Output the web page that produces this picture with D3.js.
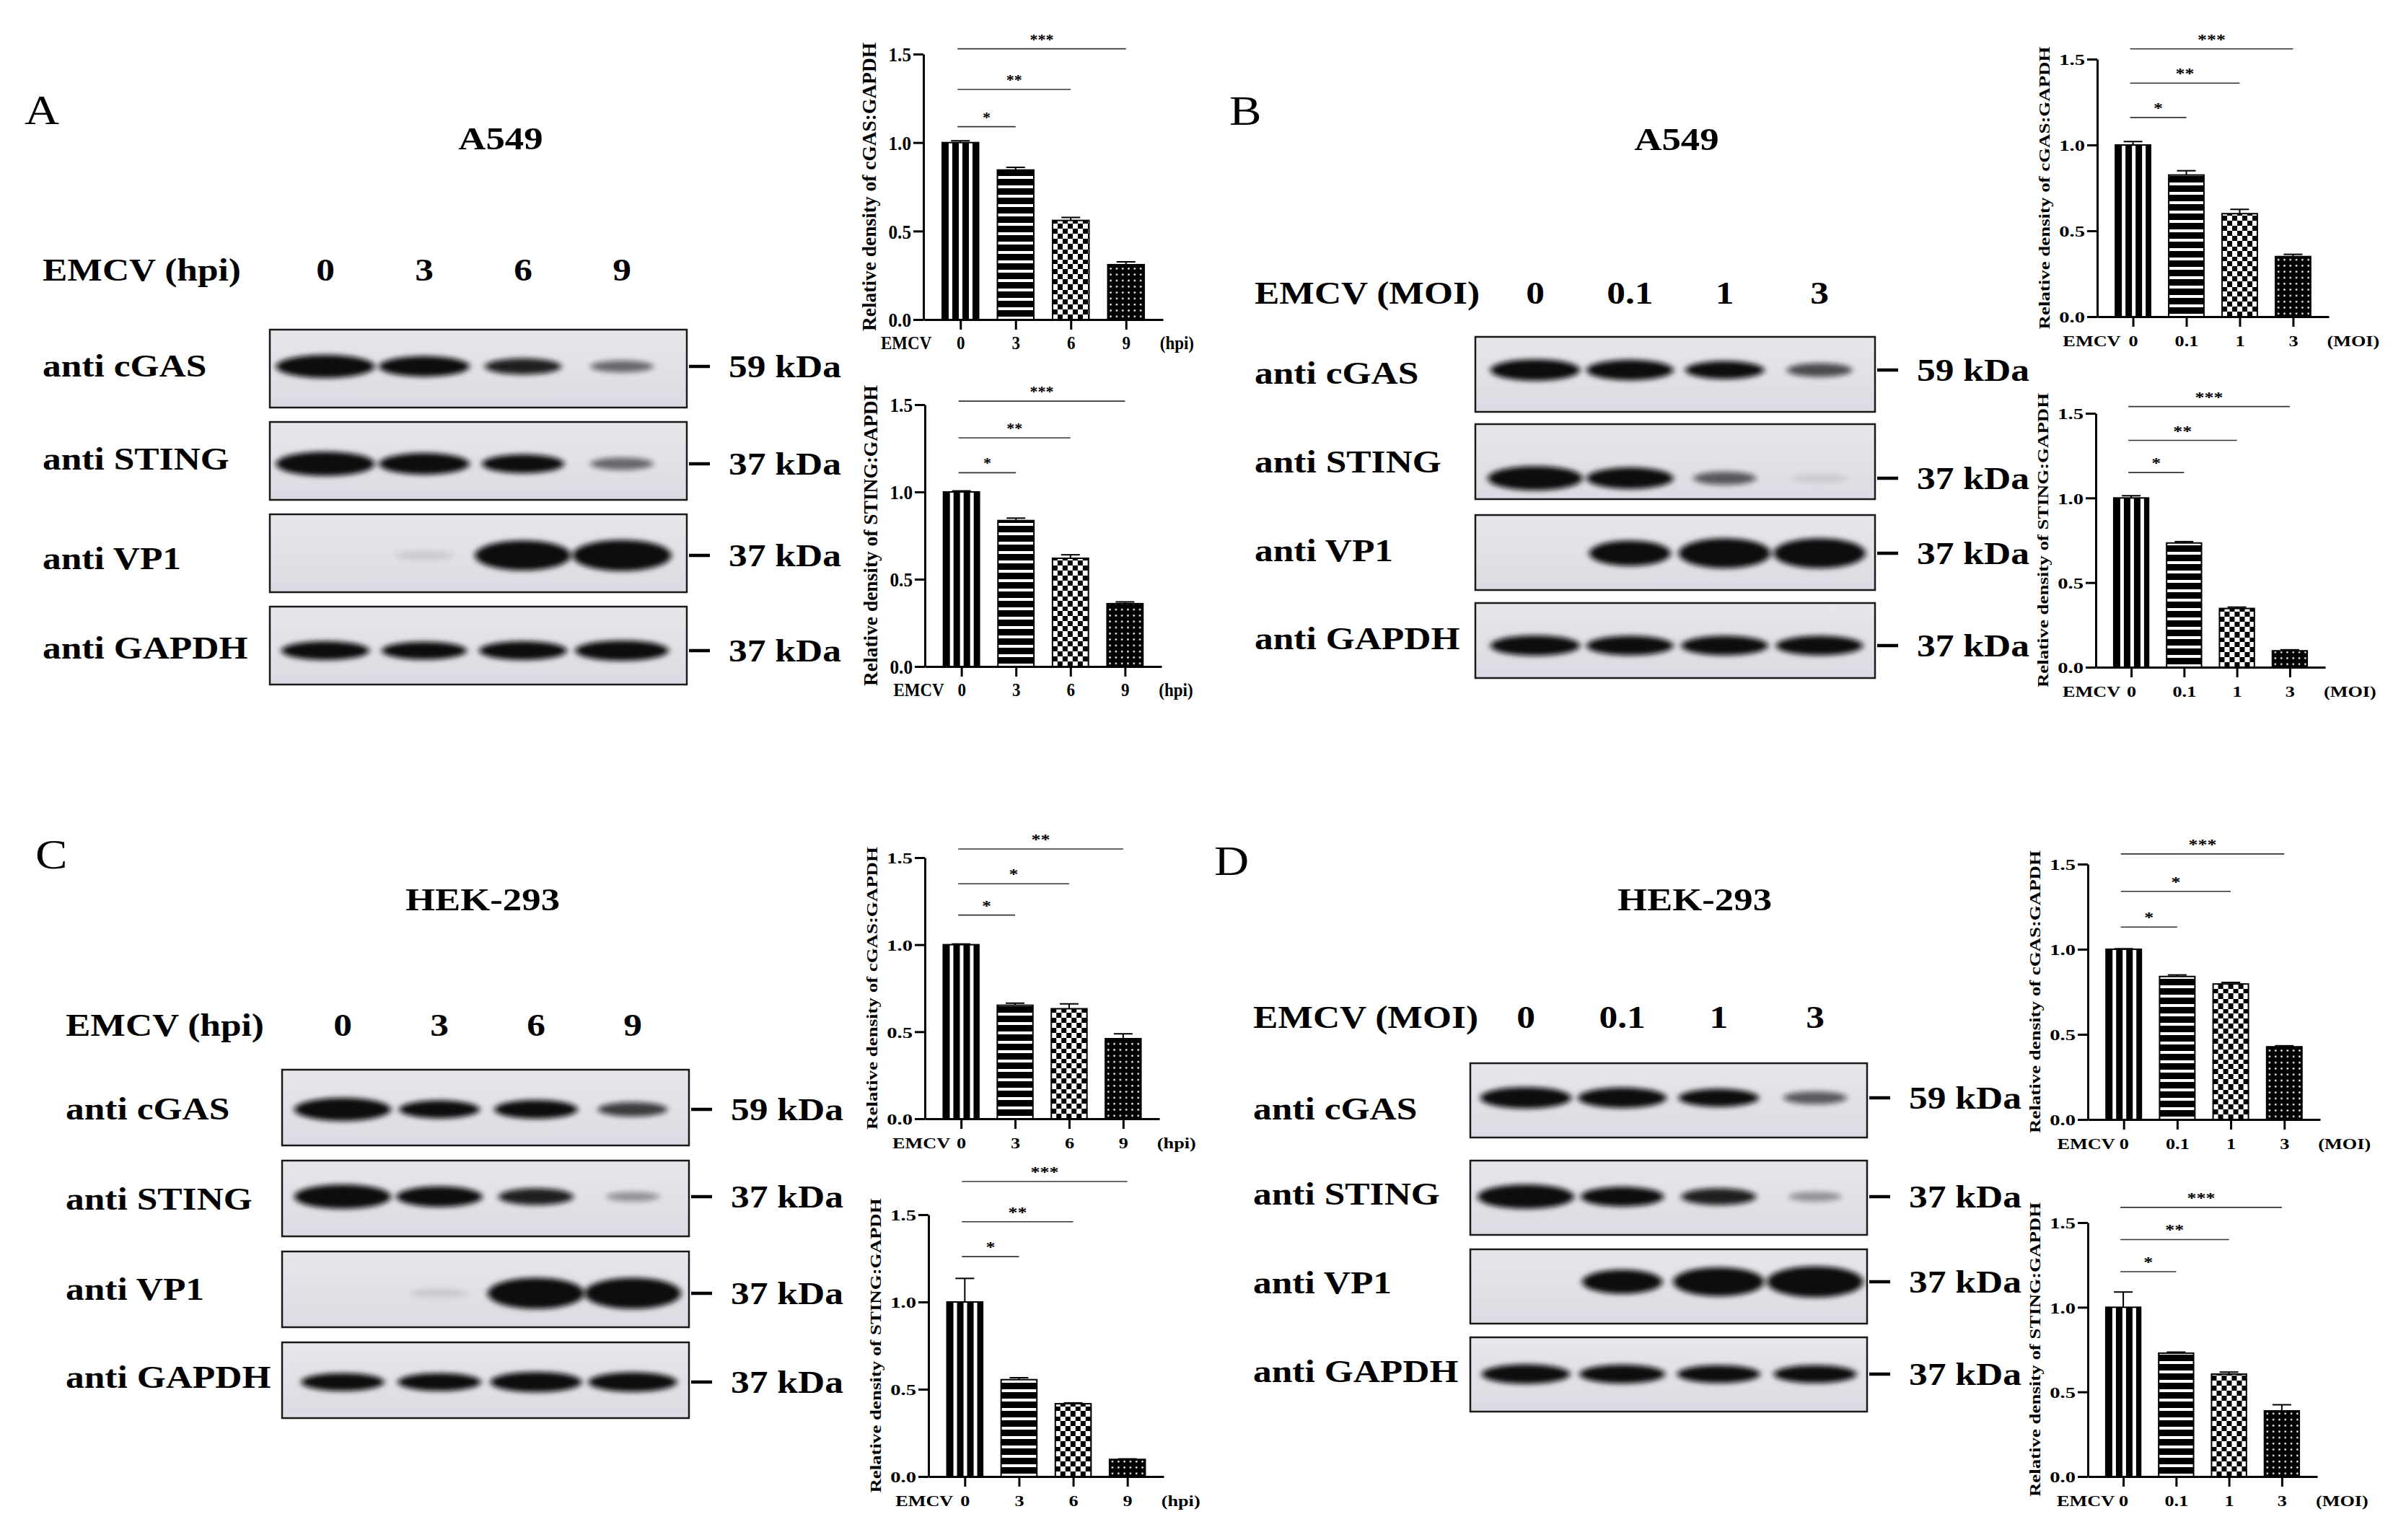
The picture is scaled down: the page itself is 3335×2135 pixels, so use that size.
<!DOCTYPE html>
<html>
<head>
<meta charset="utf-8">
<title>EMCV reduces cGAS and STING</title>
<style>
  body { margin: 0; background: #fff; }
  svg { display: block; background: #fff; }
  text { font-family: 'Liberation Serif', 'Times New Roman', serif; fill: #000; }
  .bold { font-weight: bold; }
  .plain { font-weight: normal; }
  .axis path, .axis line { stroke: #000; stroke-width: 3px; }
  .sig { stroke: #333; stroke-width: 1.6px; }
</style>
<script src="https://cdn.jsdelivr.net/npm/d3@7"></script>
</head>
<body>
<div id="fig"></div>
<script>
var width = 3335, height = 2135;

// lanes / categories
var hpiLanes = ['0', '3', '6', '9'];
var moiLanes = ['0', '0.1', '1', '3'];
var blotRows = ['anti cGAS', 'anti STING', 'anti VP1', 'anti GAPDH'];
var blotMarkers = ['59 kDa', '37 kDa', '37 kDa', '37 kDa'];
var yTicks = [0, 0.5, 1.0, 1.5];

// band strength read off the blots (rows: cGAS, STING, VP1, GAPDH; 0 = no band)
var bandsA = [[1.0, 0.85, 0.6, 0.35], [1.0, 0.85, 0.7, 0.35], [0, 0.06, 0.95, 1.0], [0.8, 0.75, 0.8, 0.9]];
var bandsB = [[0.9, 0.85, 0.7, 0.45], [1.0, 0.85, 0.4, 0.1], [0, 0.75, 0.95, 0.95], [0.9, 0.85, 0.85, 0.85]];
var bandsC = [[1.0, 0.7, 0.75, 0.5], [1.0, 0.8, 0.6, 0.2], [0, 0.06, 1.0, 1.0], [0.75, 0.75, 0.9, 0.85]];
var bandsD = [[0.9, 0.85, 0.7, 0.4], [1.0, 0.75, 0.6, 0.2], [0, 0.7, 0.9, 1.0], [0.85, 0.8, 0.75, 0.75]];

// relative density and its (upper) error bar
var cgasHpiA = [1.00, 0.845, 0.56, 0.31];
var cgasHpiAErr = [0.010, 0.015, 0.017, 0.016];
var stingHpiA = [1.00, 0.836, 0.62, 0.36];
var stingHpiAErr = [0.006, 0.014, 0.020, 0.010];
var cgasMoiB = [1.00, 0.825, 0.60, 0.35];
var cgasMoiBErr = [0.020, 0.025, 0.025, 0.013];
var stingMoiB = [1.00, 0.734, 0.347, 0.097];
var stingMoiBErr = [0.013, 0.008, 0.008, 0.006];
var cgasHpiC = [1.00, 0.652, 0.632, 0.46];
var cgasHpiCErr = [0.004, 0.012, 0.028, 0.028];
var stingHpiC = [1.00, 0.555, 0.417, 0.098];
var stingHpiCErr = [0.135, 0.011, 0.005, 0.003];
var cgasMoiD = [1.00, 0.84, 0.796, 0.427];
var cgasMoiDErr = [0.003, 0.009, 0.009, 0.006];
var stingMoiD = [1.00, 0.729, 0.605, 0.388];
var stingMoiDErr = [0.090, 0.006, 0.012, 0.036];

// significance of lane 0 vs lanes 1,2,3: stars and bracket height (y units)
var starsA1 = ['*', '**', '***'], sigA1 = [1.09, 1.30, 1.53];
var starsA2 = ['*', '**', '***'], sigA2 = [1.11, 1.31, 1.52];
var starsB1 = ['*', '**', '***'], sigB1 = [1.16, 1.36, 1.56];
var starsB2 = ['*', '**', '***'], sigB2 = [1.15, 1.34, 1.54];
var starsC1 = ['*', '*', '**'], sigC1 = [1.17, 1.35, 1.55];
var starsC2 = ['*', '**', '***'], sigC2 = [1.26, 1.46, 1.69];
var starsD1 = ['*', '*', '***'], sigD1 = [1.13, 1.34, 1.56];
var starsD2 = ['*', '**', '***'], sigD2 = [1.21, 1.40, 1.59];

// page layout
var blotLayout = [
    {letter: 'A', letterX: 34, letterY: 172, cell: 'A549', cellX: 694, cellY: 207, head: 'EMCV (hpi)', headY: 389, labelX: 59,
     lanes: hpiLanes, laneX: [451, 862], boxX: [374, 952], rowTop: [457, 585, 713, 841], rowH: 108,
     bandY: [508, 643, 770, 902], labelY: [522, 651, 789, 913], bands: bandsA},
    {letter: 'B', letterX: 1704, letterY: 173, cell: 'A549', cellX: 2324, cellY: 208, head: 'EMCV (MOI)', headY: 421, labelX: 1739,
     lanes: moiLanes, laneX: [2128, 2522], boxX: [2045, 2599], rowTop: [467, 588, 714, 836], rowH: 104,
     bandY: [513, 663, 767, 895], labelY: [532, 655, 778, 900], bands: bandsB},
    {letter: 'C', letterX: 49, letterY: 1204, cell: 'HEK-293', cellX: 669, cellY: 1262, head: 'EMCV (hpi)', headY: 1436, labelX: 91,
     lanes: hpiLanes, laneX: [475, 877], boxX: [391, 955], rowTop: [1483, 1609, 1735, 1861], rowH: 105,
     bandY: [1538, 1659, 1793, 1916], labelY: [1552, 1677, 1802, 1924], bands: bandsC},
    {letter: 'D', letterX: 1683, letterY: 1213, cell: 'HEK-293', cellX: 2349, cellY: 1262, head: 'EMCV (MOI)', headY: 1425, labelX: 1737,
     lanes: moiLanes, laneX: [2115, 2516], boxX: [2038, 2588], rowTop: [1474, 1609, 1732, 1854], rowH: 103,
     bandY: [1522, 1659, 1777, 1905], labelY: [1552, 1670, 1793, 1916], bands: bandsD}
];
var rowThick = [1.0, 1.05, 1.35, 0.95];

var charts = [
    {id: 'a1', x0: 1280, xEnd: 1612, y0: 443, yTop: 75, lanes: hpiLanes, unit: '(hpi)', protein: 'cGAS',
     values: cgasHpiA, errs: cgasHpiAErr, stars: starsA1, sig: sigA1, emcvGap: 40, big: true},
    {id: 'a2', x0: 1282, xEnd: 1610, y0: 924, yTop: 561, lanes: hpiLanes, unit: '(hpi)', protein: 'STING',
     values: stingHpiA, errs: stingHpiAErr, stars: starsA2, sig: sigA2, emcvGap: 24, big: true},
    {id: 'b1', x0: 2907, xEnd: 3228, y0: 439, yTop: 82, lanes: moiLanes, unit: '(MOI)', protein: 'cGAS',
     values: cgasMoiB, errs: cgasMoiBErr, stars: starsB1, sig: sigB1, emcvGap: 17},
    {id: 'b2', x0: 2905, xEnd: 3223, y0: 925, yTop: 573, lanes: moiLanes, unit: '(MOI)', protein: 'STING',
     values: stingMoiB, errs: stingMoiBErr, stars: starsB2, sig: sigB2, emcvGap: 15},
    {id: 'c1', x0: 1282, xEnd: 1607, y0: 1551, yTop: 1189, lanes: hpiLanes, unit: '(hpi)', protein: 'cGAS',
     values: cgasHpiC, errs: cgasHpiCErr, stars: starsC1, sig: sigC1, emcvGap: 15},
    {id: 'c2', x0: 1287, xEnd: 1613, y0: 2047, yTop: 1684, lanes: hpiLanes, unit: '(hpi)', protein: 'STING',
     values: stingHpiC, errs: stingHpiCErr, stars: starsC2, sig: sigC2, emcvGap: 16},
    {id: 'd1', x0: 2894, xEnd: 3216, y0: 1552, yTop: 1198, lanes: moiLanes, unit: '(MOI)', protein: 'cGAS',
     values: cgasMoiD, errs: cgasMoiDErr, stars: starsD1, sig: sigD1, emcvGap: 12},
    {id: 'd2', x0: 2894, xEnd: 3212, y0: 2047, yTop: 1695, lanes: moiLanes, unit: '(MOI)', protein: 'STING',
     values: stingMoiD, errs: stingMoiDErr, stars: starsD2, sig: sigD2, emcvGap: 12}
];

var svg = d3.select('#fig')
    .append('svg')
    .attr('width', width)
    .attr('height', height);

var defs = svg.append('defs');

var grad = defs.append('linearGradient').attr('id', 'membrane')
    .attr('x1', 0).attr('y1', 0).attr('x2', 0).attr('y2', 1);
grad.append('stop').attr('offset', '0%').attr('stop-color', '#e8e5eb');
grad.append('stop').attr('offset', '100%').attr('stop-color', '#dedae3');

defs.append('filter').attr('id', 'blur')
    .attr('x', '-50%').attr('y', '-80%').attr('width', '200%').attr('height', '260%')
    .append('feGaussianBlur').attr('stdDeviation', '4 3.5');

// text that is squeezed/stretched sideways like the original figure
function stext(g, x, y, str, size, sx, anchor, cls) {
    return g.append('text')
        .attr('transform', 'translate(' + x + ',' + y + ') scale(' + sx + ',1)')
        .attr('text-anchor', anchor || 'start')
        .attr('class', cls || 'bold')
        .style('font-size', size + 'px')
        .text(str);
}

function drawBlot(p) {
    var g = svg.append('g');
    stext(g, p.letterX, p.letterY, p.letter, 58, 1.15, 'start', 'plain');
    stext(g, p.cellX, p.cellY, p.cell, 44, 1.2, 'middle');
    stext(g, p.labelX, p.headY, p.head, 44, 1.17);

    var lane = d3.scalePoint().domain(p.lanes).range(p.laneX);
    var step = lane.step();

    g.selectAll('.lane')
        .data(p.lanes)
        .enter()
        .append('text')
        .attr('class', 'bold')
        .attr('text-anchor', 'middle')
        .style('font-size', '44px')
        .attr('transform', function(d){
            return 'translate(' + lane(d) + ',' + p.headY + ') scale(1.17,1)';
        })
        .text(function(d){ return d; });

    blotRows.forEach(function(name, r){
        var top = p.rowTop[r];
        var clipId = 'clip-' + p.letter + r;
        defs.append('clipPath').attr('id', clipId)
            .append('rect')
            .attr('x', p.boxX[0]).attr('y', top)
            .attr('width', p.boxX[1] - p.boxX[0]).attr('height', p.rowH);

        g.append('rect')
            .attr('x', p.boxX[0]).attr('y', top)
            .attr('width', p.boxX[1] - p.boxX[0]).attr('height', p.rowH)
            .attr('fill', 'url(#membrane)');

        g.append('g')
            .attr('clip-path', 'url(#' + clipId + ')')
            .selectAll('ellipse')
            .data(p.bands[r].map(function(v, i){ return {lane: p.lanes[i], v: v}; })
                .filter(function(d){ return d.v > 0; }))
            .enter()
            .append('ellipse')
            .attr('cx', function(d){ return lane(d.lane); })
            .attr('cy', p.bandY[r])
            .attr('rx', function(d){ return step * (d.v < 0.15 ? 0.3 : 0.22 + 0.28 * d.v); })
            .attr('ry', function(d){ return rowThick[r] * (4 + 12 * d.v); })
            .attr('fill', '#0b0b0d')
            .attr('opacity', function(d){ return d.v < 0.15 ? 0.1 : Math.min(1, 0.1 + 1.35 * d.v); })
            .attr('filter', 'url(#blur)');

        g.append('rect')
            .attr('x', p.boxX[0]).attr('y', top)
            .attr('width', p.boxX[1] - p.boxX[0]).attr('height', p.rowH)
            .attr('fill', 'none').attr('stroke', '#1a1a1a').attr('stroke-width', 2.5);

        stext(g, p.labelX, p.labelY[r], name, 44, 1.17);

        g.append('line')
            .attr('x1', p.boxX[1] + 3).attr('x2', p.boxX[1] + 32)
            .attr('y1', p.bandY[r]).attr('y2', p.bandY[r])
            .attr('stroke', '#000').attr('stroke-width', 4.5);
        stext(g, p.boxX[1] + 58, p.bandY[r] + 15, blotMarkers[r], 44, 1.17);
    });
}

function makePatterns(id, lefts, y0) {
    var p = defs.append('pattern').attr('id', id + '-0').attr('patternUnits', 'userSpaceOnUse')
        .attr('x', lefts[0]).attr('y', 0).attr('width', 14).attr('height', 10);
    p.append('rect').attr('width', 14).attr('height', 10).attr('fill', '#fff');
    p.append('rect').attr('width', 9).attr('height', 10).attr('fill', '#000');

    p = defs.append('pattern').attr('id', id + '-1').attr('patternUnits', 'userSpaceOnUse')
        .attr('x', 0).attr('y', y0).attr('width', 10).attr('height', 13);
    p.append('rect').attr('width', 10).attr('height', 13).attr('fill', '#fff');
    p.append('rect').attr('width', 10).attr('height', 9).attr('fill', '#000');

    p = defs.append('pattern').attr('id', id + '-2').attr('patternUnits', 'userSpaceOnUse')
        .attr('x', lefts[2]).attr('y', y0).attr('width', 14).attr('height', 14);
    p.append('rect').attr('width', 14).attr('height', 14).attr('fill', '#fff');
    p.append('rect').attr('width', 7).attr('height', 7).attr('fill', '#000');
    p.append('rect').attr('x', 7).attr('y', 7).attr('width', 7).attr('height', 7).attr('fill', '#000');

    p = defs.append('pattern').attr('id', id + '-3').attr('patternUnits', 'userSpaceOnUse')
        .attr('x', lefts[3]).attr('y', y0).attr('width', 8.3).attr('height', 8.3);
    p.append('rect').attr('width', 8.3).attr('height', 8.3).attr('fill', '#000');
    p.append('circle').attr('cx', 4.15).attr('cy', 4.15).attr('r', 1.3).attr('fill', '#fff');
}

function drawChart(c) {
    var st = c.big
        ? {tick: 28, tickSx: 0.9, label: 25, labelSx: 0.92, title: 28, titleSx: 0.98, star: 22, starSx: 1.0}
        : {tick: 22, tickSx: 1.3, label: 21, labelSx: 1.25, title: 21, titleSx: 1.28, star: 20, starSx: 1.3};

    var g = svg.append('g');
    var x = d3.scalePoint().domain(c.lanes).range([c.x0, c.xEnd]).padding(0.67);
    var y = d3.scaleLinear().domain([0, 1.5]).range([c.y0, c.yTop]);
    var bw = x.step() * 0.66;

    makePatterns(c.id, c.lanes.map(function(d){ return x(d) - bw / 2; }), c.y0);

    g.selectAll('.bar')
        .data(c.values)
        .enter()
        .append('rect')
        .attr('class', 'bar')
        .attr('x', function(d, i){ return x(c.lanes[i]) - bw / 2; })
        .attr('y', function(d){ return y(d); })
        .attr('width', bw)
        .attr('height', function(d){ return y(0) - y(d); })
        .attr('fill', function(d, i){ return 'url(#' + c.id + '-' + i + ')'; })
        .attr('stroke', '#000')
        .attr('stroke-width', 2);

    // error bars, upper half only
    var eb = g.selectAll('.err')
        .data(c.values)
        .enter()
        .append('g')
        .attr('class', 'err');
    eb.append('line')
        .attr('x1', function(d, i){ return x(c.lanes[i]); })
        .attr('x2', function(d, i){ return x(c.lanes[i]); })
        .attr('y1', function(d){ return y(d); })
        .attr('y2', function(d, i){ return y(d + c.errs[i]); })
        .attr('stroke', '#000').attr('stroke-width', 2);
    eb.append('line')
        .attr('x1', function(d, i){ return x(c.lanes[i]) - 13; })
        .attr('x2', function(d, i){ return x(c.lanes[i]) + 13; })
        .attr('y1', function(d, i){ return y(d + c.errs[i]); })
        .attr('y2', function(d, i){ return y(d + c.errs[i]); })
        .attr('stroke', '#000').attr('stroke-width', 2);

    var yAxis = d3.axisLeft(y).tickValues(yTicks).tickFormat(d3.format('.1f')).tickSize(14).tickSizeOuter(0);
    var ya = g.append('g').attr('class', 'axis')
        .attr('transform', 'translate(' + c.x0 + ',0)')
        .call(yAxis);
    ya.attr('font-family', null).attr('font-size', null);
    ya.selectAll('text')
        .attr('x', null)
        .attr('dy', '0.35em')
        .attr('class', 'bold')
        .style('font-size', st.tick + 'px')
        .attr('transform', 'translate(-17,0) scale(' + st.tickSx + ',1)');

    var xAxis = d3.axisBottom(x).tickSize(14).tickSizeOuter(0);
    var xa = g.append('g').attr('class', 'axis')
        .attr('transform', 'translate(0,' + c.y0 + ')')
        .call(xAxis);
    xa.attr('font-family', null).attr('font-size', null);
    xa.selectAll('text')
        .attr('y', null)
        .attr('dy', null)
        .attr('class', 'bold')
        .style('font-size', st.label + 'px')
        .attr('transform', 'translate(0,41) scale(' + st.labelSx + ',1)');

    stext(g, x(c.lanes[0]) - c.emcvGap, c.y0 + 41, 'EMCV', st.label, st.labelSx, 'end');
    stext(g, x(c.lanes[c.lanes.length - 1]) + 47, c.y0 + 41, c.unit, st.label, st.labelSx, 'start');

    g.append('text')
        .attr('class', 'bold')
        .attr('text-anchor', 'middle')
        .style('font-size', st.title + 'px')
        .attr('transform', 'translate(' + (c.x0 - 66) + ',' + ((c.y0 + c.yTop) / 2) + ') rotate(-90) scale(' + st.titleSx + ',1)')
        .text('Relative density of ' + c.protein + ':GAPDH');

    // significance brackets against lane 0
    c.stars.forEach(function(s, k){
        var ly = y(c.sig[k]);
        var a = x(c.lanes[0]) - 4, b = x(c.lanes[k + 1]);
        g.append('line').attr('class', 'sig')
            .attr('x1', a).attr('x2', b).attr('y1', ly).attr('y2', ly);
        stext(g, (a + b) / 2, ly - 6, s, st.star, st.starSx, 'middle');
    });
}

blotLayout.forEach(drawBlot);
charts.forEach(drawChart);
</script>
</body>
</html>
